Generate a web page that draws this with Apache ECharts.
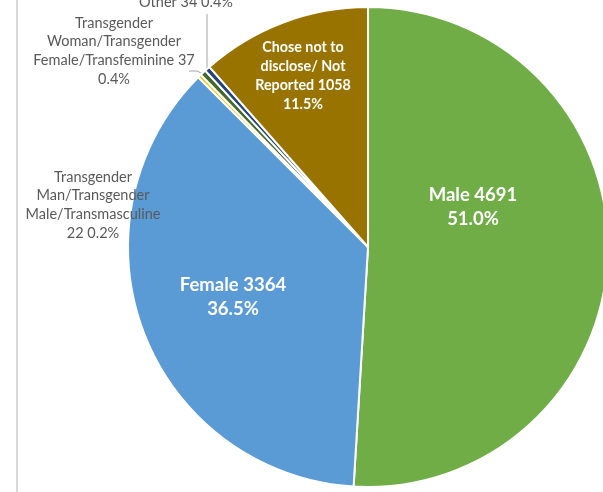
<!DOCTYPE html>
<html>
<head>
<meta charset="utf-8">
<script src="https://cdn.jsdelivr.net/npm/echarts@6/dist/echarts.min.js"></script>
<style>
html, body { margin: 0; padding: 0; background: #fff; }
#main { width: 603px; height: 492px; }
</style>
</head>
<body>
<div id="main"></div>
<script>
// categories, clockwise from 12 o'clock
var categories = [
	'Male',
	'Female',
	'Transgender Man/Transgender Male/Transmasculine',
	'Transgender Woman/Transgender Female/Transfeminine',
	'Other',
	'Chose not to disclose/ Not Reported'
];
var counts = [4691, 3364, 22, 37, 34, 1058];
// label text as wrapped in the original ({v} = count, {p} = percent)
var labelTemplates = [
	'Male {v}\n{p}',
	'Female {v}\n{p}',
	'Transgender\nMan/Transgender\nMale/Transmasculine\n{v} {p}',
	'Transgender\nWoman/Transgender\nFemale/Transfeminine {v}\n{p}',
	'Other {v} {p}',
	'Chose not to\ndisclose/ Not\nReported {v}\n{p}'
];
var colors = ['#70AD47', '#5B9BD5', '#FFC000', '#43682B', '#264478', '#997300'];

var FONT = 'Lato';
var styleBig = { color: '#fff', fontWeight: 'bold', fontSize: 18.5, lineHeight: 24 };
var styleMid = { color: '#fff', fontWeight: 'bold', fontSize: 14.3, lineHeight: 19 };
var styleOut = { color: '#595959', fontWeight: 'normal', fontSize: 14.5, lineHeight: 18.7 };
var labelStyles = [styleBig, styleBig, styleOut, styleOut, styleOut, styleMid];
var showLine = [false, false, false, true, true, false];

// where the labels sit (centre of text block)
var labelPos = [[473, 207], [233, 297], [93, 205], [114, 51], [186, 2], [303, 76]];
var linePts = {
	3: [[189, 71], [197, 71], [203, 74]],
	4: [[207, 14], [207, 40], [207, 69]]
};

var data = categories.map(function (name, i) {
	var s = labelStyles[i];
	return {
		name: name,
		value: counts[i],
		itemStyle: { color: colors[i] },
		label: {
			position: s === styleOut ? 'outside' : 'inside',
			color: s.color,
			fontWeight: s.fontWeight,
			fontSize: s.fontSize,
			lineHeight: s.lineHeight
		},
		labelLine: { show: showLine[i] }
	};
});

var chart = echarts.init(document.getElementById('main'));
chart.setOption({
	animation: false,
	graphic: [{
		type: 'line',
		shape: { x1: 17, y1: 0, x2: 17, y2: 492 },
		style: { stroke: '#d9d9d9', lineWidth: 2 }
	}],
	series: [{
		type: 'pie',
		center: [368, 247],
		radius: 240,
		startAngle: 90,
		clockwise: true,
		percentPrecision: 1,
		avoidLabelOverlap: false,
		itemStyle: { borderColor: '#fff', borderWidth: 2 },
		label: {
			fontFamily: FONT,
			align: 'center',
			formatter: function (p) {
				return labelTemplates[p.dataIndex]
					.replace('{v}', p.value)
					.replace('{p}', p.percent.toFixed(1) + '%');
			}
		},
		labelLine: {
			lineStyle: { color: '#a6a6a6', width: 1 },
			smooth: false
		},
		labelLayout: function (params) {
			var i = params.dataIndex;
			var out = {
				x: labelPos[i][0],
				y: labelPos[i][1],
				align: 'center',
				verticalAlign: 'middle'
			};
			if (linePts[i]) out.labelLinePoints = linePts[i];
			return out;
		},
		data: data
	}]
});
</script>
</body>
</html>
